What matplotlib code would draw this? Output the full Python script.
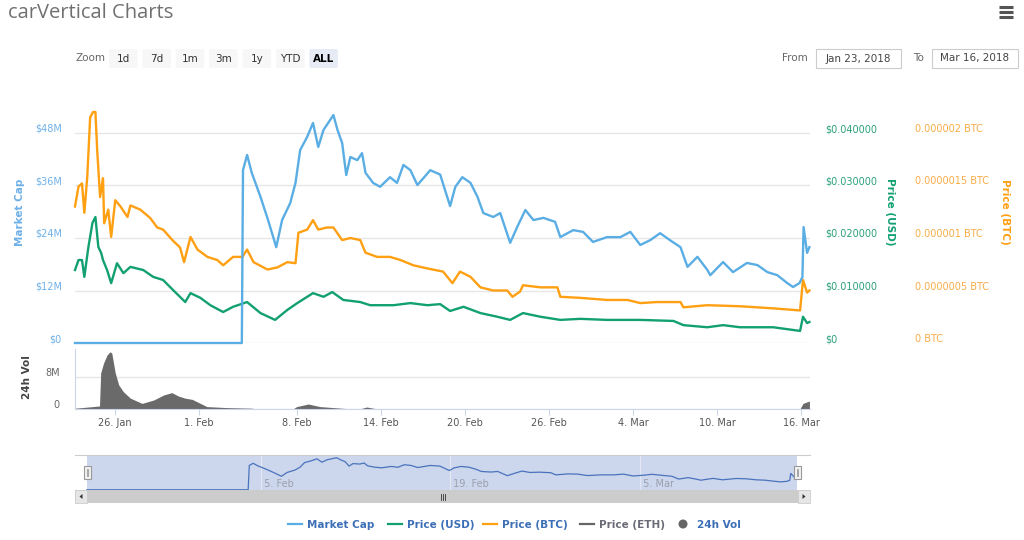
import numpy as np
import pandas as pd
import matplotlib
matplotlib.use("Agg")
import matplotlib.pyplot as plt
import matplotlib.dates as mdates
import matplotlib.transforms as mtrans
from matplotlib.patches import FancyBboxPatch, Rectangle, Circle, Polygon
from matplotlib.ticker import FixedLocator, FuncFormatter

# ---- data ----
mc_time = ["2018-01-23 03:00", "2018-02-04 01:00", "2018-02-04 03:00", "2018-02-04 10:00", "2018-02-04 18:00",
           "2018-02-05 09:00", "2018-02-05 22:00", "2018-02-06 12:00", "2018-02-06 22:00", "2018-02-07 12:00",
           "2018-02-07 21:00", "2018-02-08 05:00", "2018-02-08 17:00", "2018-02-09 03:00", "2018-02-09 12:00",
           "2018-02-09 21:00", "2018-02-10 05:00", "2018-02-10 14:00", "2018-02-10 21:00", "2018-02-11 05:00",
           "2018-02-11 12:00", "2018-02-11 19:00", "2018-02-12 07:00", "2018-02-12 15:00", "2018-02-12 21:00",
           "2018-02-13 10:00", "2018-02-13 22:00", "2018-02-14 15:00", "2018-02-15 03:00", "2018-02-15 14:00",
           "2018-02-16 02:00", "2018-02-16 14:00", "2018-02-17 12:00", "2018-02-18 05:00", "2018-02-18 22:00",
           "2018-02-19 07:00", "2018-02-19 19:00", "2018-02-20 09:00", "2018-02-20 21:00", "2018-02-21 07:00",
           "2018-02-22 00:00", "2018-02-22 12:00", "2018-02-23 05:00", "2018-02-23 17:00", "2018-02-24 07:00",
           "2018-02-24 21:00", "2018-02-25 14:00", "2018-02-26 10:00", "2018-02-26 19:00", "2018-02-27 17:00",
           "2018-02-28 10:00", "2018-03-01 03:00", "2018-03-02 03:00", "2018-03-03 02:00", "2018-03-03 19:00",
           "2018-03-04 12:00", "2018-03-05 05:00", "2018-03-05 22:00", "2018-03-06 15:00", "2018-03-07 09:00",
           "2018-03-07 21:00", "2018-03-08 14:00", "2018-03-09 07:00", "2018-03-09 12:00", "2018-03-10 10:00",
           "2018-03-11 03:00", "2018-03-12 03:00", "2018-03-12 21:00", "2018-03-13 14:00", "2018-03-14 07:00",
           "2018-03-15 00:00", "2018-03-15 10:00", "2018-03-15 21:00", "2018-03-16 02:00", "2018-03-16 04:00",
           "2018-03-16 10:00", "2018-03-16 14:00"]
mc_musd = [0, 0, 39.5, 43.0, 38.9, 33.4, 28.1, 21.9, 28.1, 32.0,
           36.6, 44.1, 47.1, 50.3, 44.8, 48.7, 50.3, 52.1, 48.7, 45.7,
           38.4, 42.5, 41.8, 43.4, 38.9, 36.6, 35.7, 37.9, 36.6, 40.7,
           39.5, 36.1, 39.5, 38.5, 31.3, 35.7, 37.9, 36.6, 33.4, 29.7,
           28.8, 29.7, 22.9, 26.5, 30.4, 28.1, 28.6, 27.7, 24.2, 25.8,
           25.4, 23.1, 24.2, 24.2, 25.4, 22.4, 23.5, 25.1, 23.5, 21.9,
           17.4, 19.7, 16.7, 15.5, 18.5, 16.2, 18.3, 17.8, 16.2, 15.5,
           13.7, 12.8, 13.7, 15.1, 26.5, 20.6, 21.9]

usd_time = ["2018-01-23 03:00", "2018-01-23 09:00", "2018-01-23 15:00", "2018-01-23 19:00", "2018-01-24 02:00",
            "2018-01-24 09:00", "2018-01-24 14:00", "2018-01-24 19:00", "2018-01-25 00:00", "2018-01-25 03:00",
            "2018-01-25 10:00", "2018-01-25 17:00", "2018-01-26 03:00", "2018-01-26 14:00", "2018-01-27 02:00",
            "2018-01-28 00:00", "2018-01-28 17:00", "2018-01-29 10:00", "2018-01-30 03:00", "2018-01-31 00:00",
            "2018-01-31 09:00", "2018-02-01 02:00", "2018-02-01 19:00", "2018-02-02 17:00", "2018-02-03 10:00",
            "2018-02-04 10:00", "2018-02-05 09:00", "2018-02-06 10:00", "2018-02-07 07:00", "2018-02-08 00:00",
            "2018-02-09 03:00", "2018-02-09 21:00", "2018-02-10 12:00", "2018-02-11 07:00", "2018-02-12 12:00",
            "2018-02-13 05:00", "2018-02-14 21:00", "2018-02-16 02:00", "2018-02-17 07:00", "2018-02-18 05:00",
            "2018-02-18 22:00", "2018-02-19 21:00", "2018-02-21 02:00", "2018-02-22 07:00", "2018-02-23 05:00",
            "2018-02-24 03:00", "2018-02-25 09:00", "2018-02-26 19:00", "2018-02-28 05:00", "2018-03-02 03:00",
            "2018-03-04 12:00", "2018-03-06 21:00", "2018-03-07 14:00", "2018-03-09 07:00", "2018-03-10 10:00",
            "2018-03-11 15:00", "2018-03-14 00:00", "2018-03-15 22:00", "2018-03-16 03:00", "2018-03-16 10:00",
            "2018-03-16 14:00"]
usd_price = [0.0139, 0.0158, 0.0158, 0.0126, 0.0183, 0.0229, 0.0240, 0.0183, 0.0171, 0.0158,
             0.0139, 0.0114, 0.0152, 0.0133, 0.0145, 0.0139, 0.0126, 0.0120, 0.0101, 0.0078,
             0.0095, 0.0086, 0.0072, 0.0059, 0.0069, 0.0078, 0.0057, 0.0044, 0.0063, 0.0076,
             0.0095, 0.0088, 0.0097, 0.0082, 0.0078, 0.0072, 0.0072, 0.0076, 0.0072, 0.0074,
             0.0061, 0.0069, 0.0057, 0.0050, 0.0044, 0.0057, 0.0050, 0.0044, 0.0046, 0.0044,
             0.0044, 0.0042, 0.0034, 0.0030, 0.0034, 0.0030, 0.0030, 0.0023, 0.0050, 0.0038,
             0.0040]

btc_time = ["2018-01-23 03:00", "2018-01-23 09:00", "2018-01-23 15:00", "2018-01-23 19:00", "2018-01-24 00:00",
            "2018-01-24 05:00", "2018-01-24 10:00", "2018-01-24 14:00", "2018-01-24 17:00", "2018-01-24 22:00",
            "2018-01-25 03:00", "2018-01-25 05:00", "2018-01-25 12:00", "2018-01-25 17:00", "2018-01-26 00:00",
            "2018-01-26 09:00", "2018-01-26 21:00", "2018-01-27 02:00", "2018-01-27 19:00", "2018-01-28 12:00",
            "2018-01-29 00:00", "2018-01-29 10:00", "2018-01-30 02:00", "2018-01-30 15:00", "2018-01-30 22:00",
            "2018-01-31 09:00", "2018-01-31 21:00", "2018-02-01 14:00", "2018-02-02 07:00", "2018-02-02 17:00",
            "2018-02-03 10:00", "2018-02-04 02:00", "2018-02-04 10:00", "2018-02-04 21:00", "2018-02-05 21:00",
            "2018-02-06 14:00", "2018-02-07 07:00", "2018-02-07 21:00", "2018-02-08 02:00", "2018-02-08 17:00",
            "2018-02-09 03:00", "2018-02-09 12:00", "2018-02-10 03:00", "2018-02-10 14:00", "2018-02-11 05:00",
            "2018-02-11 19:00", "2018-02-12 12:00", "2018-02-12 21:00", "2018-02-13 17:00", "2018-02-14 15:00",
            "2018-02-15 09:00", "2018-02-16 07:00", "2018-02-17 07:00", "2018-02-18 10:00", "2018-02-19 02:00",
            "2018-02-19 15:00", "2018-02-20 09:00", "2018-02-21 02:00", "2018-02-22 00:00", "2018-02-23 00:00",
            "2018-02-23 09:00", "2018-02-23 22:00", "2018-02-24 03:00", "2018-02-25 09:00", "2018-02-26 14:00",
            "2018-02-26 19:00", "2018-02-28 05:00", "2018-03-02 03:00", "2018-03-03 14:00", "2018-03-04 12:00",
            "2018-03-05 17:00", "2018-03-07 09:00", "2018-03-07 14:00", "2018-03-09 07:00", "2018-03-11 15:00",
            "2018-03-14 00:00", "2018-03-15 22:00", "2018-03-16 03:00", "2018-03-16 10:00", "2018-03-16 14:00"]
btc_ubtc = [1.30, 1.49, 1.52, 1.24, 1.58, 2.15, 2.20, 2.20, 1.84, 1.39,
            1.57, 1.14, 1.27, 1.01, 1.36, 1.30, 1.20, 1.31, 1.27, 1.19,
            1.10, 1.08, 0.98, 0.91, 0.77, 1.01, 0.89, 0.82, 0.79, 0.74,
            0.82, 0.82, 0.89, 0.77, 0.70, 0.72, 0.77, 0.76, 1.05, 1.08,
            1.17, 1.08, 1.10, 1.10, 0.98, 1.00, 0.98, 0.86, 0.82, 0.82,
            0.79, 0.74, 0.71, 0.68, 0.57, 0.68, 0.63, 0.53, 0.50, 0.50,
            0.44, 0.49, 0.55, 0.53, 0.53, 0.44, 0.43, 0.41, 0.41, 0.38,
            0.39, 0.39, 0.34, 0.36, 0.35, 0.33, 0.31, 0.60, 0.48, 0.50]

vol_time = ["2018-01-23 03:00", "2018-01-24 21:00", "2018-01-24 23:00", "2018-01-25 04:00", "2018-01-25 10:00",
            "2018-01-25 15:00", "2018-01-25 18:00", "2018-01-26 00:00", "2018-01-26 06:00", "2018-01-26 14:00",
            "2018-01-27 02:00", "2018-01-27 22:00", "2018-01-28 18:00", "2018-01-29 11:00", "2018-01-30 01:00",
            "2018-01-30 12:00", "2018-01-31 00:00", "2018-01-31 12:00", "2018-02-01 02:00", "2018-02-01 13:00",
            "2018-02-02 23:00", "2018-02-04 18:00", "2018-02-05 00:00", "2018-02-07 17:00", "2018-02-07 23:00",
            "2018-02-08 19:00", "2018-02-09 15:00", "2018-02-11 13:00", "2018-02-12 12:00", "2018-02-12 23:00",
            "2018-02-13 14:00", "2018-03-15 22:00", "2018-03-16 03:00", "2018-03-16 14:00"]
vol_musd = [0.2, 0.75, 9.0, 11.5, 13.5, 14.3, 14.0, 9.0, 6.0, 4.3,
            2.7, 1.4, 2.25, 3.5, 4.1, 3.25, 2.7, 2.4, 1.4, 0.6,
            0.35, 0.2, 0.03, 0.05, 0.6, 1.25, 0.6, 0.1, 0.05, 0.5,
            0.1, 0.1, 1.4, 2.0]

x_ticks = ["2018-01-26", "2018-02-01", "2018-02-08", "2018-02-14", "2018-02-20",
           "2018-02-26", "2018-03-04", "2018-03-10", "2018-03-16"]
nav_ticks = ["2018-02-05", "2018-02-19", "2018-03-05"]
mc_ticks = [0, 12, 24, 36, 48]
usd_ticks = [0, 0.01, 0.02, 0.03, 0.04]
btc_ticks = [0, 0.5e-6, 1e-6, 1.5e-6, 2e-6]
zoom_buttons = ["1d", "7d", "1m", "3m", "1y", "YTD", "ALL"]
legend_items = ["Market Cap", "Price (USD)", "Price (BTC)", "Price (ETH)", "24h Vol"]

C_MC = "#5aaee4"
C_USD = "#12a072"
C_BTC = "#ff9f12"
C_VOL = "#6a6a6a"

plt.rcParams["font.family"] = ["DejaVu Sans"]
W, H = 1024, 540
fig = plt.figure(figsize=(10.24, 5.4), dpi=100)


def px_axes(x0, y0, x1, y1):
    return fig.add_axes([x0 / W, 1 - y1 / H, (x1 - x0) / W, (y1 - y0) / H])


def to_num(lst):
    return mdates.date2num(pd.to_datetime(lst))


t0 = mdates.date2num(pd.Timestamp("2018-01-23 03:00"))
t1 = mdates.date2num(pd.Timestamp("2018-03-16 15:00"))
up = mtrans.ScaledTranslation(0, 5 / 100, fig.dpi_scale_trans)

# ---- main panel ----
ax = px_axes(75, 100, 810, 343)
ax.set_xlim(t0, t1)
ax.set_ylim(0, 48 * 243 / 210)
for s in ax.spines.values():
    s.set_visible(False)
ax.set_xticks([])
ax.yaxis.set_major_locator(FixedLocator(mc_ticks))
ax.yaxis.set_major_formatter(FuncFormatter(lambda v, p: "$0" if v == 0 else f"${v:.0f}M"))
ax.tick_params(axis="y", length=0, pad=9.4, labelsize=7, labelcolor="#6fb0e8")
ax.grid(axis="y", color="#e6e6e6", lw=1)
ax.set_axisbelow(True)

ax_usd = ax.twinx()
ax_usd.set_ylim(0, 0.04 * 243 / 210)
ax_usd.yaxis.set_major_locator(FixedLocator(usd_ticks))
ax_usd.yaxis.set_major_formatter(FuncFormatter(lambda v, p: "$0" if v == 0 else f"${v:.6f}"))
ax_usd.tick_params(axis="y", length=0, pad=10.8, labelsize=7, labelcolor="#2ba07c")

ax_btc = ax.twinx()
ax_btc.set_ylim(0, 2e-6 * 243 / 210)
ax_btc.yaxis.set_major_locator(FixedLocator(btc_ticks))
ax_btc.yaxis.set_major_formatter(FuncFormatter(
    lambda v, p: "0 BTC" if v == 0 else f"{v:.7f}".rstrip("0").rstrip(".") + " BTC"))
ax_btc.tick_params(axis="y", length=0, pad=75.6, labelsize=7, labelcolor="#f8ac48")
for a in (ax_usd, ax_btc):
    for s in a.spines.values():
        s.set_visible(False)

for a in (ax, ax_usd, ax_btc):
    for lbl in a.get_yticklabels():
        lbl.set_transform(lbl.get_transform() + up)

ax_btc.plot(to_num(btc_time), np.array(btc_ubtc) * 1e-6, color=C_BTC, lw=1.7, clip_on=False)
ax_usd.plot(to_num(usd_time), usd_price, color=C_USD, lw=1.7, clip_on=False)
ax_mc = ax.twinx()
ax_mc.set_ylim(ax.get_ylim())
ax_mc.axis("off")
ax_mc.plot(to_num(mc_time), mc_musd, color=C_MC, lw=1.7, clip_on=False)
ax_mc.set_xlim(t0, t1)

# ---- volume panel ----
axv = px_axes(75, 349, 810, 409)
axv.set_xlim(t0, t1)
axv.set_ylim(0, 15)
axv.fill_between(to_num(vol_time), 0, vol_musd, color=C_VOL, lw=0)
for s in ("top", "right"):
    axv.spines[s].set_visible(False)
axv.spines["left"].set_color("#ccd6eb")
axv.spines["bottom"].set_color("#ccd6eb")
axv.yaxis.set_major_locator(FixedLocator([0, 8]))
axv.yaxis.set_major_formatter(FuncFormatter(lambda v, p: "0" if v == 0 else f"{v:.0f}M"))
axv.tick_params(axis="y", length=0, pad=10.8, labelsize=7, labelcolor="#666666")
axv.grid(axis="y", color="#e6e6e6", lw=1)
axv.set_axisbelow(True)
for lbl in axv.get_yticklabels():
    lbl.set_transform(lbl.get_transform() + up)
axv.xaxis.set_major_locator(FixedLocator(to_num(x_ticks)))
axv.xaxis.set_major_formatter(FuncFormatter(
    lambda v, p: f"{mdates.num2date(v).day}. {mdates.num2date(v).strftime('%b')}"))
axv.tick_params(axis="x", length=4.3, color="#ccd6eb", pad=2.5, labelsize=7, labelcolor="#555555")

# ---- navigator ----
axn = px_axes(87, 455, 797, 490)
axn.set_xlim(t0, t1)
axn.set_ylim(-0.4, 56.5)
axn.set_facecolor("#ccd6ec")
axn.set_xticks([])
axn.set_yticks([])
for s in axn.spines.values():
    s.set_visible(False)
for d in to_num(nav_ticks):
    axn.axvline(d, color="#e2e7f3", lw=0.9)
    axn.text(d, 2, " " + f"{mdates.num2date(d).day}. {mdates.num2date(d).strftime('%b')}",
             fontsize=7, color="#9aa0ad", va="bottom", ha="left")
axn.plot(to_num(mc_time), mc_musd, color="#4a73bd", lw=0.9, clip_on=False)

# ---- overlay: title, buttons, legend, scrollbar ----
ov = fig.add_axes([0, 0, 1, 1])
ov.set_xlim(0, W)
ov.set_ylim(H, 0)
ov.axis("off")
ov.set_zorder(10)

ov.text(8, 13.5, "carVertical Charts", fontsize=14.5, color="#707070", va="center", ha="left",
        family=["Open Sans", "DejaVu Sans"])
for yy in (7, 12, 17):
    ov.plot([999, 1013], [yy, yy], color="#555555", lw=2.2, solid_capstyle="butt")

ov.text(75, 58, "Zoom", fontsize=7.5, color="#666666", va="center")
for i, lab in enumerate(zoom_buttons):
    x0 = 109 + i * 33.4
    sel = lab == "ALL"
    ov.add_patch(FancyBboxPatch((x0, 49), 28.5, 19, boxstyle="round,pad=0,rounding_size=2",
                                fc="#e6ebf5" if sel else "#f7f7f7", ec="none"))
    ov.text(x0 + 14.25, 58.5, lab, fontsize=7.5, ha="center", va="center",
            color="#000000" if sel else "#333333", weight="bold" if sel else "normal")

ov.text(808, 58, "From", fontsize=7.5, color="#666666", va="center", ha="right")
ov.add_patch(Rectangle((816, 49), 85, 19, fc="white", ec="#cccccc", lw=0.8))
ov.text(858.5, 58.5, "Jan 23, 2018", fontsize=7.5, color="#444444", va="center", ha="center")
ov.text(924, 58, "To", fontsize=7.5, color="#666666", va="center", ha="right")
ov.add_patch(Rectangle((932, 49), 86, 19, fc="white", ec="#cccccc", lw=0.8))
ov.text(975, 58.5, "Mar 16, 2018", fontsize=7.5, color="#444444", va="center", ha="center")

# axis titles
ov.text(20, 212, "Market Cap", rotation=90, fontsize=7.5, weight="bold", color="#6fb0e8",
        va="center", ha="center")
ov.text(890, 212, "Price (USD)", rotation=270, fontsize=7.5, weight="bold", color=C_USD,
        va="center", ha="center")
ov.text(1005, 212, "Price (BTC)", rotation=270, fontsize=7.5, weight="bold", color=C_BTC,
        va="center", ha="center")
ov.text(27, 377, "24h Vol", rotation=90, fontsize=7.5, weight="bold", color="#444444",
        va="center", ha="center")

# navigator frame, handles and scrollbar
ov.plot([75, 810], [454.5, 454.5], color="#cccccc", lw=0.8)
ov.add_patch(Rectangle((75, 490), 735, 13, fc="#cccccc", ec="none"))
ov.add_patch(Rectangle((75, 490), 12, 13, fc="#e6e6e6", ec="#cccccc", lw=0.6))
ov.add_patch(Rectangle((798, 490), 12, 13, fc="#e6e6e6", ec="#cccccc", lw=0.6))
ov.add_patch(Polygon([[82.5, 494], [82.5, 499], [79.5, 496.5]], fc="#333333", ec="none"))
ov.add_patch(Polygon([[802.5, 494], [802.5, 499], [805.5, 496.5]], fc="#333333", ec="none"))
for gx in (440.5, 442.5, 444.5):
    ov.plot([gx, gx], [493.5, 499.5], color="#333333", lw=0.6)
for hx in (84, 794):
    ov.add_patch(Rectangle((hx, 465.5), 7, 13.5, fc="#f2f2f2", ec="#999999", lw=0.8))
    for lx in (hx + 2.6, hx + 4.4):
        ov.plot([lx, lx], [469, 475.5], color="#999999", lw=0.6)

# legend
leg_x = [288, 388, 483, 580, 683]
leg_c = [C_MC, C_USD, C_BTC, "#666666", "#666666"]
leg_tc = ["#3d6fb7", "#3d6fb7", "#3d6fb7", "#6b6b78", "#3d6fb7"]
for lab, lx, lc, tc in zip(legend_items, leg_x, leg_c, leg_tc):
    if lab == "24h Vol":
        ov.add_patch(Circle((lx, 524), 4.5, fc=lc, ec="none"))
        tx = lx + 14
    else:
        ov.plot([lx, lx + 14], [524, 524], color=lc, lw=1.6)
        tx = lx + 19
    ov.text(tx, 524.5, lab, fontsize=7.5, weight="bold", color=tc, va="center", ha="left")

fig.savefig("out.png", dpi=100)
